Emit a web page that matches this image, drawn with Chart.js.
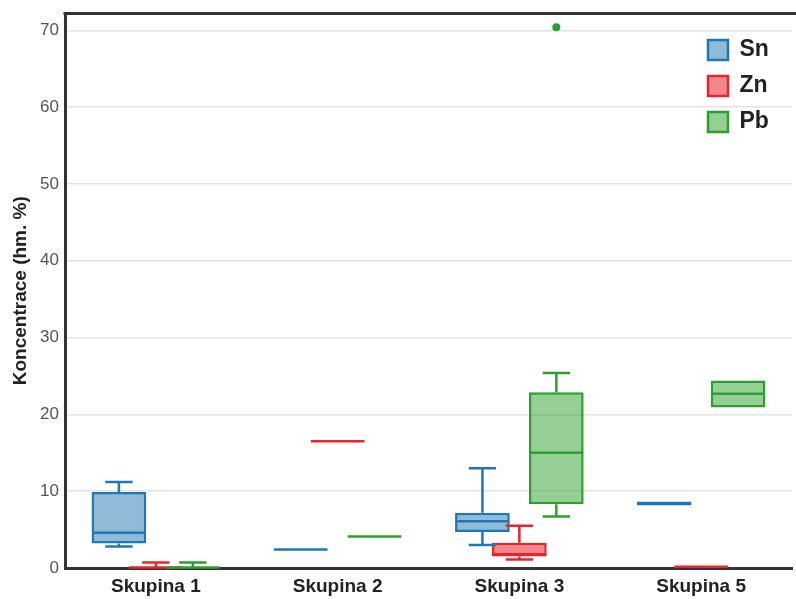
<!DOCTYPE html>
<html>
<head>
<meta charset="utf-8">
<script src="https://cdn.jsdelivr.net/npm/chart.js@4.4.0/dist/chart.umd.min.js"></script>
<style>
  html, body { margin: 0; padding: 0; background: #fff; }
  #wrap { width: 796px; height: 599px; }
</style>
</head>
<body>
<div id="wrap"><canvas id="myChart" width="796" height="599"></canvas></div>
<script>
const categories = ["Skupina 1", "Skupina 2", "Skupina 3", "Skupina 5"];
const seriesNames = ["Sn", "Zn", "Pb"];

// [min, q1, median, q3, max] per group
const snStats = [
  [2.8, 3.2, 4.6, 9.9, 11.2],
  [2.4, 2.4, 2.4, 2.4, 2.4],
  [3.0, 4.7, 6.1, 7.2, 13.0],
  [8.15, 8.15, 8.4, 8.65, 8.65],
];
const znStats = [
  [0.0, 0.0, 0.05, 0.1, 0.7],
  [16.5, 16.5, 16.5, 16.5, 16.5],
  [1.1, 1.5, 1.8, 3.3, 5.5],
  [0.15, 0.15, 0.15, 0.15, 0.15],
];
const pbStats = [
  [0.0, 0.0, 0.05, 0.1, 0.7],
  [4.1, 4.1, 4.1, 4.1, 4.1],
  [6.7, 8.3, 15.0, 22.9, 25.4],
  [20.9, 20.9, 22.7, 24.4, 24.4],
];
const snOutliers = [[], [], [], []];
const znOutliers = [[], [], [], []];
const pbOutliers = [[], [], [70.4], []];

const yTicks = [0, 10, 20, 30, 40, 50, 60, 70];

Chart.defaults.font.family = "'Liberation Sans', Arial, sans-serif";

function makeDataset(label, stats, outliers, border, fill) {
  return {
    label: label,
    data: stats.map((s) => [s[1], s[3]]),
    stats: stats,
    outliers: outliers,
    backgroundColor: fill,
    borderColor: border,
    borderWidth: 2.5,
    borderSkipped: false,
    categoryPercentage: 0.61,
    barPercentage: 1.48,
  };
}

// whiskers, medians and outlier dots on top of the bars
const whiskerPlugin = {
  id: "whiskers",
  afterDatasetsDraw(chart) {
    const ctx = chart.ctx;
    const y = chart.scales.y;
    chart.data.datasets.forEach((ds, i) => {
      const meta = chart.getDatasetMeta(i);
      meta.data.forEach((bar, j) => {
        const [min, q1, med, q3, max] = ds.stats[j];
        const half = bar.width / 2;
        const cap = bar.width / 4;
        ctx.save();
        ctx.strokeStyle = ds.borderColor;
        ctx.lineWidth = 2.5;
        ctx.beginPath();
        if (max > q3) {
          ctx.moveTo(bar.x, y.getPixelForValue(q3));
          ctx.lineTo(bar.x, y.getPixelForValue(max));
          ctx.moveTo(bar.x - cap, y.getPixelForValue(max));
          ctx.lineTo(bar.x + cap, y.getPixelForValue(max));
        }
        if (min < q1) {
          ctx.moveTo(bar.x, y.getPixelForValue(q1));
          ctx.lineTo(bar.x, y.getPixelForValue(min));
          ctx.moveTo(bar.x - cap, y.getPixelForValue(min));
          ctx.lineTo(bar.x + cap, y.getPixelForValue(min));
        }
        ctx.stroke();
        // median
        ctx.beginPath();
        ctx.moveTo(bar.x - half + 0.5, y.getPixelForValue(med));
        ctx.lineTo(bar.x + half - 0.5, y.getPixelForValue(med));
        ctx.stroke();
        // outliers
        ctx.fillStyle = ds.borderColor;
        ds.outliers[j].forEach((v) => {
          ctx.beginPath();
          ctx.arc(bar.x, y.getPixelForValue(v), 4, 0, Math.PI * 2);
          ctx.fill();
        });
        ctx.restore();
      });
    });
  },
};

// put the vertical legend in the top right corner of the plot
const legendPlacer = {
  id: "legendPlacer",
  afterLayout(chart) {
    const lg = chart.legend;
    const area = chart.chartArea;
    lg.left = area.right - 97;
    lg.right = lg.left + lg.width;
    lg.top = area.top + 12;
    lg.bottom = lg.top + lg.height;
  },
};

// top frame line
const topFrame = {
  id: "topFrame",
  afterDraw(chart) {
    const ctx = chart.ctx;
    const area = chart.chartArea;
    ctx.save();
    ctx.strokeStyle = "#333";
    ctx.lineWidth = 3;
    ctx.beginPath();
    ctx.moveTo(area.left - 1.5, area.top);
    ctx.lineTo(chart.width, area.top);
    ctx.stroke();
    ctx.restore();
  },
};

const ctx = document.getElementById("myChart");

new Chart(ctx, {
  type: "bar",
  data: {
    labels: categories,
    datasets: [
      makeDataset(seriesNames[0], snStats, snOutliers, "#1f77b4", "rgba(31,119,180,0.5)"),
      makeDataset(seriesNames[1], znStats, znOutliers, "#e8252b", "rgba(232,37,43,0.55)"),
      makeDataset(seriesNames[2], pbStats, pbOutliers, "#2ca02c", "rgba(44,160,44,0.5)"),
    ],
  },
  options: {
    responsive: false,
    animation: false,
    devicePixelRatio: 1,
    layout: {
      padding: { top: 13.5, right: 4, left: 0, bottom: 0 },
    },
    plugins: {
      tooltip: { enabled: false },
      legend: {
        position: "chartArea",
        align: "start",
        labels: {
          boxWidth: 20,
          boxHeight: 20,
          padding: 13,
          color: "#222",
          font: { size: 23, weight: "bold" },
        },
      },
    },
    scales: {
      x: {
        grid: { display: false, drawTicks: false },
        border: { display: true, color: "#333", width: 3 },
        ticks: {
          color: "#222",
          padding: 7,
          font: { size: 19, weight: "bold" },
        },
        afterFit(scale) {
          scale.height = 31;
        },
      },
      y: {
        min: 0,
        max: 72.2,
        grid: { color: "#e3e3e3", lineWidth: 1.5, drawTicks: false },
        border: { display: true, color: "#333", width: 3 },
        ticks: {
          color: "#555",
          padding: 6,
          font: { size: 17 },
        },
        afterBuildTicks(scale) {
          scale.ticks = yTicks.map((v) => ({ value: v }));
        },
        afterFit(scale) {
          scale.width = 65;
          scale.paddingTop = 0;
          scale.paddingBottom = 0;
        },
        title: {
          display: true,
          text: "Koncentrace (hm. %)",
          color: "#222",
          padding: { top: 9, bottom: 0 },
          font: { size: 19, weight: "bold" },
        },
      },
    },
  },
  plugins: [whiskerPlugin, legendPlacer, topFrame],
});
</script>
</body>
</html>
